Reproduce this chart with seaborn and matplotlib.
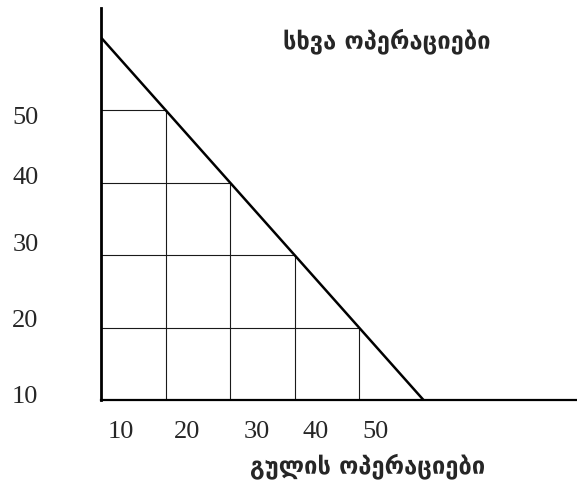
import pandas as pd
import matplotlib.pyplot as plt
import seaborn as sns

# production possibility frontier: heart operations vs other operations
frontier_heart = [0, 50]
frontier_other = [50, 0]

# staircase of 10x10 blocks under the frontier: column start -> number of blocks
stair_cols = [0, 10, 20, 30]
stair_heights = [40, 30, 20, 10]

# tick labels as printed (slightly offset from the grid in the original)
x_tick_labels = ['10', '20', '30', '40', '50']
y_tick_labels = ['10', '20', '30', '40', '50']
x_tick_pos = [3.1, 13.3, 24.2, 33.2, 42.5]
y_tick_pos = [0.7, 11.2, 21.7, 31.0, 39.3]

x_title = 'გულის ოპერაციები'
y_title = 'სხვა ოპერაციები'

# build the grid segments of the staircase
segs = []
sid = 0
for c, h in zip(stair_cols, stair_heights):
    # vertical line at right edge of column
    segs.append((sid, c + 10, 0)); segs.append((sid, c + 10, h)); sid += 1
for c, h in zip(stair_cols, stair_heights):
    # horizontal line at each block top, running back to the axis
    segs.append((sid, 0, h)); segs.append((sid, c + 10, h)); sid += 1
grid = pd.DataFrame(segs, columns=['seg', 'x', 'y'])
front = pd.DataFrame({'x': frontier_heart, 'y': frontier_other})

sns.set_style('white')
fig = plt.figure(figsize=(5.77, 4.84), dpi=100)
W, H = 577, 484
ax = fig.add_axes([101 / W, (H - 400) / H, (W - 101) / W, (400 - 8) / H])

sns.lineplot(data=grid, x='x', y='y', units='seg', estimator=None, sort=False,
             color='#1a1a1a', linewidth=0.8, ax=ax)
sns.lineplot(data=front, x='x', y='y', estimator=None, sort=False,
             color='black', linewidth=1.8, ax=ax)

ax.set_xlim(0, (W - 101) / 6.45)
ax.set_ylim(0, (400 - 8) / 7.25)

for s in ['top', 'right']:
    ax.spines[s].set_visible(False)
ax.spines['left'].set_linewidth(2.0)
ax.spines['bottom'].set_linewidth(1.6)
ax.spines['left'].set_color('black')
ax.spines['bottom'].set_color('black')

ax.set_xticks(x_tick_pos)
ax.set_xticklabels(x_tick_labels, family='Liberation Serif', fontsize=19)
ax.set_yticks(y_tick_pos)
ax.set_yticklabels(y_tick_labels, family='Liberation Serif', fontsize=19)
ax.tick_params(axis='both', length=0)
ax.tick_params(axis='x', pad=15)
ax.tick_params(axis='y', pad=45)
ax.set_xlabel('')
ax.set_ylabel('')

fig.text(387 / W, 1 - 41 / H, y_title, ha='center', va='center',
         family='DejaVu Sans', fontweight='bold', fontsize=17)
fig.text(368 / W, 1 - 466 / H, x_title, ha='center', va='center',
         family='DejaVu Sans', fontweight='bold', fontsize=17)

fig.savefig('out.png', dpi=100)
